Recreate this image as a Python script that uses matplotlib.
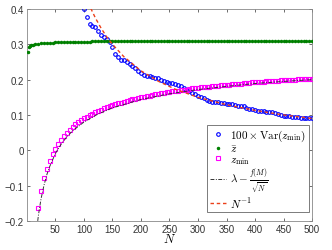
import matplotlib
matplotlib.use('Agg')
import matplotlib.pyplot as plt
import numpy as np

plt.rcParams['font.family'] = ['Liberation Sans', 'DejaVu Sans']
plt.rcParams['mathtext.fontset'] = 'cm'

# 100 x Var(z_min), every 5 from N=100
n_var = np.arange(100, 501, 5)
var_zmin = [0.399, 0.377, 0.357, 0.352, 0.348, 0.339, 0.327, 0.320, 0.316, 0.308,
            0.293, 0.274, 0.263, 0.257, 0.255, 0.251, 0.245, 0.239, 0.232, 0.224,
            0.219, 0.214, 0.210, 0.209, 0.208, 0.206, 0.204, 0.200, 0.196, 0.193,
            0.191, 0.190, 0.188, 0.186, 0.182, 0.177, 0.172, 0.168, 0.163, 0.158,
            0.154, 0.151, 0.148, 0.143, 0.140, 0.138, 0.137, 0.136, 0.135, 0.134,
            0.132, 0.131, 0.130, 0.128, 0.126, 0.125, 0.124, 0.121, 0.118, 0.116,
            0.114, 0.112, 0.111, 0.110, 0.109, 0.108, 0.107, 0.105, 0.103, 0.100,
            0.098, 0.097, 0.096, 0.094, 0.093, 0.093, 0.092, 0.092, 0.091, 0.090,
            0.090]

# z bar
n_zbar = [2, 4, 6, 8, 10] + list(range(15, 501, 5))
z_bar = ([0.278, 0.292, 0.296, 0.298, 0.299,
          0.300, 0.302, 0.303, 0.304, 0.304, 0.305, 0.305, 0.306, 0.306, 0.306,
          0.306, 0.307, 0.307, 0.307, 0.307, 0.307, 0.308, 0.308, 0.308, 0.308]
         + [0.309] * 78)

# z_min, every 5 from N=20
n_zmin = np.arange(20, 501, 5)
z_min = [-0.163, -0.115, -0.079, -0.052, -0.029, -0.011, 0.005, 0.019, 0.030, 0.041,
         0.050, 0.058, 0.066, 0.073, 0.079, 0.085, 0.090, 0.095, 0.100, 0.104,
         0.108, 0.112, 0.115, 0.119, 0.122, 0.125, 0.128, 0.130, 0.133, 0.135,
         0.138, 0.140, 0.142, 0.144, 0.146, 0.148, 0.150, 0.152, 0.154, 0.155,
         0.157, 0.158, 0.160, 0.161, 0.163, 0.164, 0.165, 0.167, 0.168, 0.169,
         0.170, 0.171, 0.172, 0.174, 0.175, 0.176, 0.177, 0.178, 0.179, 0.179,
         0.180, 0.181, 0.182, 0.183, 0.184, 0.185, 0.185, 0.186, 0.187, 0.188,
         0.188, 0.189, 0.190, 0.191, 0.191, 0.192, 0.193, 0.193, 0.194, 0.194,
         0.195, 0.196, 0.196, 0.197, 0.197, 0.198, 0.198, 0.199, 0.199, 0.200,
         0.200, 0.201, 0.201, 0.202, 0.202, 0.203, 0.203]

# lambda - f(M)/sqrt(N)
n_fit = [19, 20, 22, 25, 30, 35, 40, 50, 60, 70, 80, 100, 125, 150, 200, 250,
         300, 350, 400, 450, 500]
fit = [-0.200, -0.187, -0.165, -0.136, -0.099, -0.069, -0.046, -0.009, 0.017,
       0.038, 0.055, 0.080, 0.103, 0.120, 0.144, 0.160, 0.172, 0.181, 0.189,
       0.195, 0.200]

# N^-1 (scaled)
n_inv = [112, 120, 130, 140, 150, 170, 200, 230, 260, 300, 350, 400, 450, 500]
inv_n = [0.402, 0.375, 0.346, 0.321, 0.300, 0.265, 0.225, 0.196, 0.173, 0.150,
         0.129, 0.113, 0.100, 0.090]

fig = plt.figure(figsize=(3.32, 2.51), dpi=100)
ax = fig.add_axes([0.081, 0.116, 0.859, 0.844])

ax.plot(n_var, var_zmin, 'o', mfc='none', mec=(0, 0, 1), ms=2.6, mew=0.8,
        label=r'$100\times\mathrm{Var}(z_{\min})$', zorder=3)
ax.plot(n_zbar, z_bar, '.', color=(0, 0.5, 0), ms=3,
        label=r'$\bar{z}$', zorder=3)
ax.plot(n_zmin, z_min, 's', mfc='none', mec=(1, 0, 1), ms=2.6, mew=0.8,
        label=r'$z_{\min}$', zorder=3)
ax.plot(n_fit, fit, '-.', color='#333333', lw=0.7, dashes=(4, 1.5, 1, 1.5),
        label=r'$\lambda-\frac{f(M)}{\sqrt{N}}$', zorder=4)
ax.plot(n_inv, inv_n, '--', color=(0.92, 0.25, 0.1), lw=1.0, dashes=(2.5, 2),
        label=r'$N^{-1}$', zorder=4)

ax.set_xlim(0, 500)
ax.set_ylim(-0.2, 0.4)
ax.set_xticks(np.arange(50, 501, 50))
ax.set_yticks(np.arange(-0.2, 0.41, 0.1))
ax.set_yticklabels(['\u22120.2', '\u22120.1', '0', '0.1', '0.2', '0.3', '0.4'])
ax.tick_params(direction='in', length=2.5, width=0.5, labelsize=7,
               top=True, right=True, pad=2, colors='#333333')
for s in ax.spines.values():
    s.set_linewidth(0.6)
    s.set_color('#888888')
ax.set_xlabel(r'$N$', fontsize=9, labelpad=-1)

leg = ax.legend(loc='lower right', bbox_to_anchor=(0.996, 0.03),
                fontsize=8, handlelength=1.4, handletextpad=0.4,
                labelspacing=0.0, borderpad=0.25, borderaxespad=0.2,
                fancybox=False, framealpha=1, edgecolor='#666666', numpoints=1)
leg.get_frame().set_linewidth(0.6)

fig.savefig('out.png', dpi=100)
